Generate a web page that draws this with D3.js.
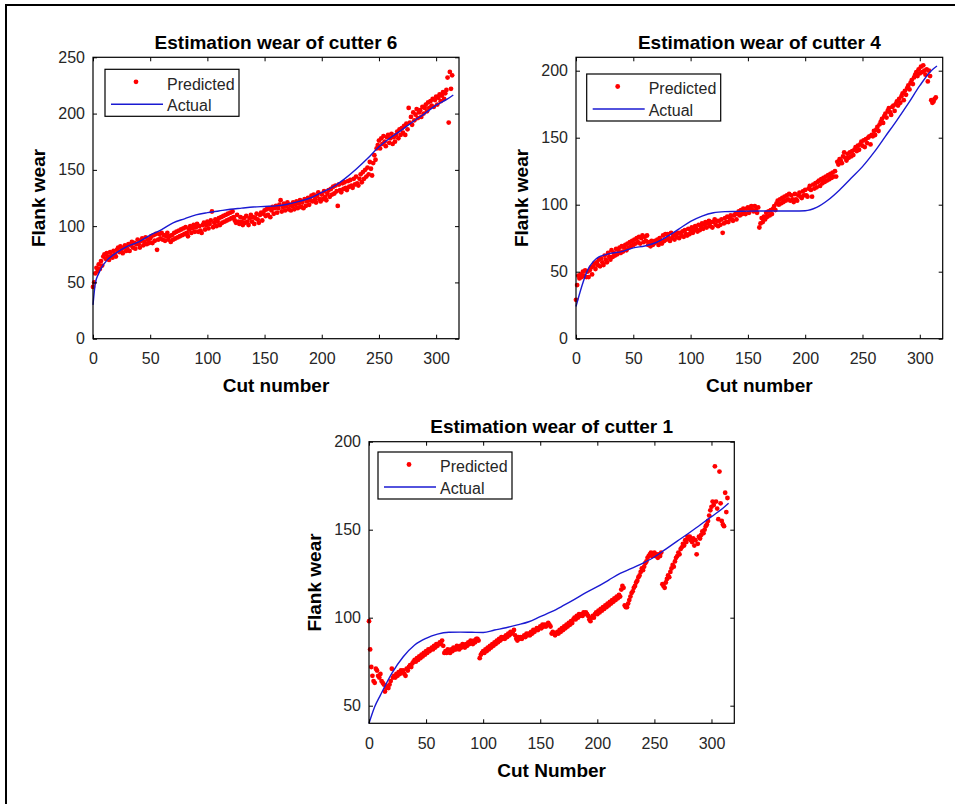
<!DOCTYPE html>
<html>
<head>
<meta charset="utf-8">
<script src="https://cdn.jsdelivr.net/npm/d3@7"></script>
<style>
  body { margin: 0; background: #fff; }
  svg { display: block; font-family: "Liberation Sans", Arial, sans-serif; }
</style>
</head>
<body>
<script>
// tick labels
var xTicks = [0, 50, 100, 150, 200, 250, 300];
var yTicksCutter6 = [0, 50, 100, 150, 200, 250];
var yTicksCutter4 = [0, 50, 100, 150, 200];
var yTicksCutter1 = [50, 100, 150, 200];

// predicted flank wear, one value per cut (cut 0, 1, 2, ...)
var cutter6Predicted = [
  46, 50, 58, 63, 60, 66, 62, 69, 65, 73,
  75, 71, 76, 73, 70, 77, 74, 72, 78, 75,
  73, 79, 81, 77, 82, 79, 76, 81, 83, 78,
  80, 84, 78, 83, 86, 81, 85, 80, 84, 88,
  84, 81, 87, 89, 83, 86, 90, 84, 88, 85,
  89, 91, 85, 92, 87, 93, 79, 88, 93, 89,
  94, 88, 92, 87, 91, 94, 88, 91, 86, 92,
  88, 94, 89, 95, 90, 96, 91, 97, 92, 98,
  93, 99, 94, 91, 97, 100, 94, 98, 101, 95,
  99, 102, 95, 100, 96, 94, 101, 103, 97, 101,
  104, 98, 102, 105, 113, 99, 103, 106, 100, 104,
  107, 101, 108, 103, 109, 104, 110, 105, 111, 106,
  112, 107, 113, 108, 105, 103, 110, 104, 102, 108,
  104, 101, 107, 103, 109, 104, 101, 107, 110, 104,
  108, 102, 107, 111, 106, 103, 110, 112, 105, 111,
  114, 109, 115, 110, 116, 108, 114, 117, 111, 116,
  118, 112, 116, 119, 123, 113, 117, 120, 114, 118,
  121, 115, 119, 114, 118, 121, 115, 119, 122, 116,
  120, 123, 117, 121, 116, 124, 118, 122, 125, 119,
  123, 127, 122, 128, 124, 121, 127, 130, 124, 122,
  128, 124, 131, 126, 123, 129, 132, 126, 133, 128,
  135, 129, 136, 131, 118, 137, 132, 130, 138, 133,
  139, 134, 132, 140, 135, 141, 136, 134, 142, 137,
  144, 138, 136, 142, 146, 139, 148, 142, 150, 144,
  152, 146, 157, 151, 145, 156, 163, 159, 169, 172,
  176, 169, 178, 173, 180, 175, 171, 179, 181, 174,
  178, 182, 173, 179, 175, 181, 184, 178, 186, 181,
  187, 183, 189, 181, 191, 186, 205, 192, 197, 190,
  201, 194, 199, 204, 196, 201, 203, 197, 206, 200,
  205, 208, 202, 210, 205, 211, 207, 213, 206, 212,
  215, 208, 214, 217, 211, 216, 219, 213, 218, 221,
  232, 192, 237, 222, 234
];

var cutter4Predicted = [
  29, 40, 47, 45, 48, 46, 50, 47, 51, 46,
  50, 46, 51, 53, 48, 54, 56, 52, 57, 55,
  59, 54, 60, 57, 55, 62, 59, 57, 64, 61,
  59, 66, 61, 64, 62, 67, 63, 66, 68, 64,
  69, 65, 68, 70, 66, 71, 68, 72, 69, 73,
  70, 74, 71, 75, 72, 76, 71, 75, 77, 72,
  76, 73, 77, 70, 72, 69, 73, 70, 71, 73,
  72, 74, 70, 75, 72, 71, 77, 73, 78, 74,
  78, 75, 73, 79, 75, 77, 74, 78, 76, 79,
  75, 79, 77, 80, 76, 81, 78, 77, 82, 78,
  81, 83, 79, 81, 84, 82, 80, 85, 81, 84,
  86, 82, 85, 87, 83, 86, 88, 84, 87, 83,
  87, 89, 85, 88, 84, 88, 85, 89, 79, 86,
  90, 87, 91, 87, 90, 92, 89, 88, 92, 93,
  89, 93, 95, 92, 96, 93, 97, 94, 93, 97,
  98, 94, 97, 99, 96, 95, 99, 96, 94, 98,
  83, 86, 90, 87, 91, 89, 94, 91, 95, 92,
  96, 93, 97, 99, 96, 101, 103, 100, 104, 101,
  105, 102, 106, 103, 107, 104, 108, 103, 107, 104,
  102, 108, 104, 103, 107, 109, 106, 105, 110, 107,
  111, 107, 106, 112, 114, 111, 106, 115, 112, 116,
  113, 117, 118, 114, 119, 116, 120, 117, 121, 118,
  122, 119, 123, 120, 124, 121, 125, 121, 132, 130,
  134, 133, 131, 136, 139, 135, 133, 138, 135, 139,
  136, 140, 137, 141, 143, 140, 144, 141, 145, 147,
  144, 148, 143, 149, 146, 150, 151, 145, 152, 151,
  155, 152, 156, 158, 155, 160, 162, 164, 161, 166,
  168, 165, 170, 172, 169, 167, 173, 174, 170, 175,
  177, 174, 179, 176, 181, 183, 178, 185, 182, 187,
  189, 186, 191, 193, 190, 195, 197, 199, 196, 201,
  198, 203, 199, 204, 200, 197, 201, 192, 200, 196,
  178, 176, 177, 179, 180
];

var cutter1Predicted = [
  98, 82, 72, 67, 64, 63, 71, 70, 67, 66,
  68, 64, 63, 62, 58, 60, 61, 60, 62, 64,
  71, 66, 67, 66, 68, 67, 69, 68, 70, 69,
  70, 68, 67, 71, 70, 72, 73, 72, 74, 75,
  76, 75, 77, 76, 78, 77, 79, 78, 80, 79,
  81, 80, 82, 81, 82, 83, 82, 84, 83, 85,
  84, 85, 86, 85, 87, 84, 80, 81, 80, 82,
  81, 80, 82, 81, 83, 82, 82, 84, 83, 82,
  84, 83, 85, 84, 83, 85, 84, 86, 85, 87,
  86, 85, 87, 86, 88, 88, 87, 77, 79, 80,
  81, 80, 82, 81, 83, 82, 84, 83, 85, 84,
  86, 85, 87, 86, 88, 87, 89, 88, 89, 88,
  90, 89, 91, 90, 92, 91, 92, 93, 90, 88,
  87, 89, 88, 89, 88, 89, 90, 89, 91, 90,
  91, 90, 92, 91, 93, 92, 93, 94, 93, 94,
  95, 94, 96, 95, 96, 95, 96, 97, 96, 95,
  91, 92, 91, 90, 91, 92, 91, 93, 92, 94,
  93, 95, 94, 96, 95, 97, 96, 98, 97, 99,
  100, 99, 101, 100, 102, 101, 102, 101, 103, 102,
  103, 102, 101, 99, 98, 100, 101, 100, 102, 103,
  102, 104, 103, 105, 104, 106, 105, 107, 106, 108,
  107, 109, 108, 110, 109, 111, 110, 112, 111, 113,
  112, 116, 118, 117, 107, 106, 106, 108, 110, 112,
  114, 115, 117, 118, 120, 121, 123, 124, 126, 128,
  127, 129, 131, 132, 134, 135, 136, 137, 135, 136,
  137, 135, 136, 134, 136, 135, 137, 119, 118, 117,
  120, 122, 124, 123, 126, 128, 130, 129, 132, 134,
  135, 137, 136, 139, 140, 142, 141, 144, 143, 146,
  145, 146, 144, 143, 145, 141, 144, 136, 142, 146,
  145, 147, 149, 148, 150, 152, 153, 155, 158, 161,
  163, 166, 164, 186, 166, 162, 156, 183, 165, 155,
  153, 152, 171, 160, 168
];

// actual flank wear (smooth measured curve)
var cutter6ActualCuts = [0, 2, 5, 10, 20, 30, 40, 50, 60, 70, 80, 90, 100, 110, 120, 130, 140, 150, 160, 170, 180, 190, 200, 210, 220, 230, 240, 250, 260, 270, 280, 290, 300, 310, 315];
var cutter6ActualWear = [30, 49, 58, 67, 76, 82, 86, 92, 97, 103, 106.5, 110, 112, 113.5, 115, 116, 117, 117.5, 118, 119.5, 122, 125, 130, 135, 142, 150.5, 160, 170.5, 178.5, 185.5, 193, 200, 207.5, 213, 216.5];

var cutter4ActualCuts = [0, 5, 10, 15, 20, 25, 30, 40, 50, 60, 70, 80, 90, 100, 110, 120, 130, 140, 150, 160, 170, 180, 190, 200, 210, 220, 230, 240, 250, 260, 270, 280, 290, 300, 310, 315];
var cutter4ActualWear = [24, 39, 51, 57.5, 61, 62.5, 63.7, 65, 67.8, 69.2, 71.8, 76.5, 82, 87.5, 91.5, 94, 94.8, 95, 95.2, 95.3, 95.3, 95.3, 95.3, 95.5, 98, 103.5, 111, 119.7, 128.4, 139, 151, 163, 175.6, 188.8, 200, 203.5];

var cutter1ActualCuts = [0, 5, 10, 20, 30, 40, 50, 60, 70, 80, 90, 100, 110, 120, 130, 140, 150, 160, 170, 180, 190, 200, 210, 220, 230, 240, 250, 260, 270, 280, 290, 300, 310, 315];
var cutter1ActualWear = [40, 49.4, 56, 68.4, 77.8, 84.5, 88.3, 90.7, 91.7, 91.8, 91.7, 91.6, 93, 94.3, 95.9, 97.7, 100.6, 103.4, 106.8, 110.4, 114.2, 117.6, 121.4, 125.2, 128, 131, 134.5, 139, 143.5, 148, 152.7, 157.4, 162.2, 165];

var width = 955, height = 804;
var dotColor = '#ff0000';
var lineColor = '#1a1ad2';
var tickColor = '#262626';

var svg = d3.select('body')
  .append('svg')
  .attr('width', width)
  .attr('height', height);

svg.append('rect')
  .attr('width', width)
  .attr('height', height)
  .attr('fill', '#fff');

// figure frame (only top and left edges are inside the picture)
svg.append('path')
  .attr('d', 'M6,' + height + 'V5H' + width)
  .attr('fill', 'none')
  .attr('stroke', '#000')
  .attr('stroke-width', 2);

var panels = [
  { title: 'Estimation wear of cutter 6', xLabel: 'Cut number',
    left: 93, right: 459, top: 57.3, bottom: 338.7,
    yDomain: [0, 250], yTicks: yTicksCutter6,
    predicted: cutter6Predicted, actualCuts: cutter6ActualCuts, actualWear: cutter6ActualWear,
    legendDx: 12, legendDy: 12 },
  { title: 'Estimation wear of cutter 4', xLabel: 'Cut number',
    left: 576, right: 942.7, top: 57.3, bottom: 338.7,
    yDomain: [0, 210], yTicks: yTicksCutter4,
    predicted: cutter4Predicted, actualCuts: cutter4ActualCuts, actualWear: cutter4ActualWear,
    legendDx: 10.7, legendDy: 16.7 },
  { title: 'Estimation wear of cutter 1', xLabel: 'Cut Number',
    left: 369, right: 734.3, top: 441.7, bottom: 723.3,
    yDomain: [40, 200], yTicks: yTicksCutter1,
    predicted: cutter1Predicted, actualCuts: cutter1ActualCuts, actualWear: cutter1ActualWear,
    legendDx: 9, legendDy: 10.3 }
];

panels.forEach(drawPanel);

function drawPanel(p) {
  var w = p.right - p.left, h = p.bottom - p.top;
  var g = svg.append('g')
    .attr('transform', 'translate(' + p.left + ',' + p.top + ')');

  var x = d3.scaleLinear().domain([0, 320]).range([0, w]);
  var y = d3.scaleLinear().domain(p.yDomain).range([h, 0]);

  // predicted dots
  g.append('g')
    .selectAll('circle')
    .data(p.predicted)
    .enter()
    .append('circle')
    .attr('cx', function(d, i) { return x(i); })
    .attr('cy', function(d) { return y(d); })
    .attr('r', 2.4)
    .attr('fill', dotColor);

  // actual curve
  var line = d3.line()
    .x(function(d) { return x(d[0]); })
    .y(function(d) { return y(d[1]); })
    .curve(d3.curveMonotoneX);
  g.append('path')
    .datum(d3.zip(p.actualCuts, p.actualWear))
    .attr('d', line)
    .attr('fill', 'none')
    .attr('stroke', lineColor)
    .attr('stroke-width', 1.4);

  // axes with inward ticks on all four sides
  var bottomAxis = g.append('g')
    .attr('transform', 'translate(0,' + h + ')')
    .call(d3.axisBottom(x).tickValues(xTicks).tickSizeInner(-4).tickSizeOuter(0).tickPadding(14));
  var leftAxis = g.append('g')
    .call(d3.axisLeft(y).tickValues(p.yTicks).tickSizeInner(-4).tickSizeOuter(0).tickPadding(8));
  var topAxis = g.append('g')
    .call(d3.axisTop(x).tickValues(xTicks).tickSizeInner(-4).tickSizeOuter(0).tickFormat(''));
  var rightAxis = g.append('g')
    .attr('transform', 'translate(' + w + ',0)')
    .call(d3.axisRight(y).tickValues(p.yTicks).tickSizeInner(-4).tickSizeOuter(0).tickFormat(''));

  [bottomAxis, leftAxis, topAxis, rightAxis].forEach(function(a) {
    a.select('.domain').remove();
    a.selectAll('.tick line').attr('stroke', '#000').attr('stroke-width', 1);
    a.selectAll('text')
      .attr('fill', tickColor)
      .style('font-size', '16px')
      .style('font-family', '"Liberation Sans", Arial, sans-serif');
  });

  g.append('rect')
    .attr('width', w)
    .attr('height', h)
    .attr('fill', 'none')
    .attr('stroke', '#000')
    .attr('stroke-width', 1.2);

  // title and axis labels
  g.append('text')
    .attr('x', w / 2)
    .attr('y', -8.5)
    .attr('text-anchor', 'middle')
    .style('font-size', '19px')
    .style('font-weight', 'bold')
    .text(p.title);

  g.append('text')
    .attr('x', w / 2)
    .attr('y', h + 53.3)
    .attr('text-anchor', 'middle')
    .style('font-size', '19px')
    .style('font-weight', 'bold')
    .text(p.xLabel);

  g.append('text')
    .attr('transform', 'translate(-48,' + (h / 2) + ') rotate(-90)')
    .attr('text-anchor', 'middle')
    .style('font-size', '19px')
    .style('font-weight', 'bold')
    .text('Flank wear');

  // legend
  var lg = g.append('g')
    .attr('transform', 'translate(' + p.legendDx + ',' + p.legendDy + ')');
  lg.append('rect')
    .attr('width', 134)
    .attr('height', 47)
    .attr('fill', '#fff')
    .attr('stroke', '#000')
    .attr('stroke-width', 1.2);
  lg.append('circle')
    .attr('cx', 31)
    .attr('cy', 12.5)
    .attr('r', 2.4)
    .attr('fill', dotColor);
  lg.append('line')
    .attr('x1', 6).attr('x2', 58)
    .attr('y1', 35).attr('y2', 35)
    .attr('stroke', lineColor)
    .attr('stroke-width', 1.4);
  lg.append('text')
    .attr('x', 62).attr('y', 20.3)
    .style('font-size', '16px')
    .attr('fill', tickColor)
    .text('Predicted');
  lg.append('text')
    .attr('x', 62).attr('y', 41.5)
    .style('font-size', '16px')
    .attr('fill', tickColor)
    .text('Actual');
}
</script>
</body>
</html>
